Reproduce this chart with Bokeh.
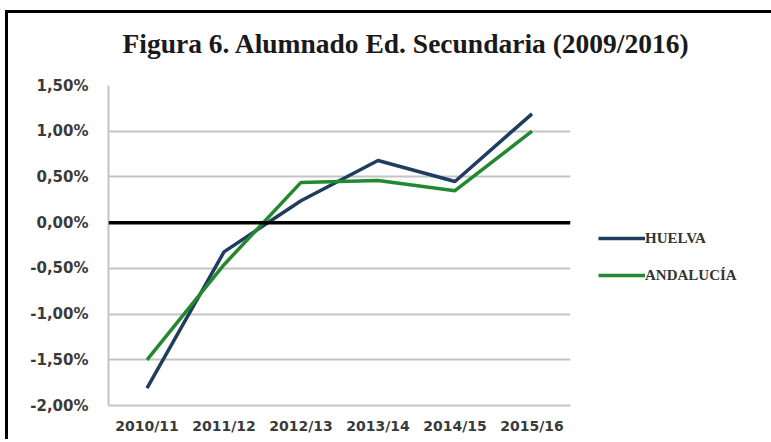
from bokeh.plotting import figure
from bokeh.models import FixedTicker, Span, Legend, LegendItem, ColumnDataSource, Title
from bokeh.embed import file_html
from bokeh.resources import INLINE

categories = ["2010/11", "2011/12", "2012/13", "2013/14", "2014/15", "2015/16"]
huelva = [-1.81, -0.32, 0.24, 0.68, 0.45, 1.19]
andalucia = [-1.50, -0.46, 0.44, 0.46, 0.35, 1.00]
y_ticks = [-2.0, -1.5, -1.0, -0.5, 0.0, 0.5, 1.0, 1.5]
y_tick_labels = ["-2,00%", "-1,50%", "-1,00%", "-0,50%", "0,00%", "0,50%", "1,00%", "1,50%"]
title_text = "Figura 6. Alumnado Ed. Secundaria (2009/2016)"
series_names = ["HUELVA", "ANDALUCÍA"]
series_colors = ["#1f3d5e", "#23892f"]

src = ColumnDataSource(dict(cat=categories, huelva=huelva, andalucia=andalucia))

p = figure(frame_width=462, frame_height=320, x_range=categories, y_range=(-2.0, 1.5),
           output_backend="svg", toolbar_location=None, title=None,
           min_border_left=100, min_border_top=72, min_border_bottom=34, min_border_right=201)
p.x_range.range_padding = 0
p.styles = {"border-top": "3px solid black", "border-left": "3px solid black",
            "margin-left": "5px", "margin-top": "10px"}
p.outline_line_color = None
p.background_fill_color = "white"
p.border_fill_color = "white"

# grid
p.xgrid.grid_line_color = None
p.ygrid.ticker = FixedTicker(ticks=y_ticks)
p.ygrid.grid_line_color = "#c4c4c4"
p.ygrid.grid_line_width = 2

# axes
p.yaxis.ticker = FixedTicker(ticks=y_ticks)
p.yaxis.major_label_overrides = {t: l for t, l in zip(y_ticks, y_tick_labels)}
for ax in (p.xaxis, p.yaxis):
    ax.axis_line_color = "#c4c4c4"
    ax.axis_line_width = 2
    ax.major_tick_line_color = None
    ax.minor_tick_line_color = None
    ax.major_tick_out = 0
    ax.major_tick_in = 0
    ax.major_label_text_font = "DejaVu Sans"
    ax.major_label_text_font_style = "bold"
    ax.major_label_text_color = "#3a3a3a"
p.xaxis.major_label_text_font_size = "14px"
p.yaxis.major_label_text_font_size = "15px"
p.yaxis.major_label_standoff = 20
p.xaxis.major_label_standoff = 12

zero = Span(location=0, dimension="width", line_color="black", line_width=3.5)
p.add_layout(zero)

r1 = p.line("cat", "huelva", source=src, line_color=series_colors[0], line_width=3.5)
r2 = p.line("cat", "andalucia", source=src, line_color=series_colors[1], line_width=3.5)

legend = Legend(items=[LegendItem(label=series_names[0], renderers=[r1]),
                       LegendItem(label=series_names[1], renderers=[r2])],
                location=(28, 120), orientation="vertical")
legend.padding = 0
legend.margin = 0
legend.border_line_alpha = 0
legend.background_fill_alpha = 0
legend.glyph_width = 47
legend.glyph_height = 20
legend.label_height = 20
legend.spacing = 17
legend.label_standoff = 0
legend.label_text_font = "Liberation Serif"
legend.label_text_font_style = "bold"
legend.label_text_font_size = "15px"
legend.label_text_color = "#333333"
p.add_layout(legend, "right")

# spacer between frame and title (closest panel to the frame)
spacer = Title(text=" ", standoff=24, text_font_size="1px")
p.add_layout(spacer, "above")
title = Title(text=title_text, align="left", offset=14, standoff=0,
              text_font="Liberation Serif", text_font_style="bold",
              text_font_size="27.5px", text_color="#1a1a1a")
p.add_layout(title, "above")

open("out.html", "w").write(file_html(p, INLINE))
